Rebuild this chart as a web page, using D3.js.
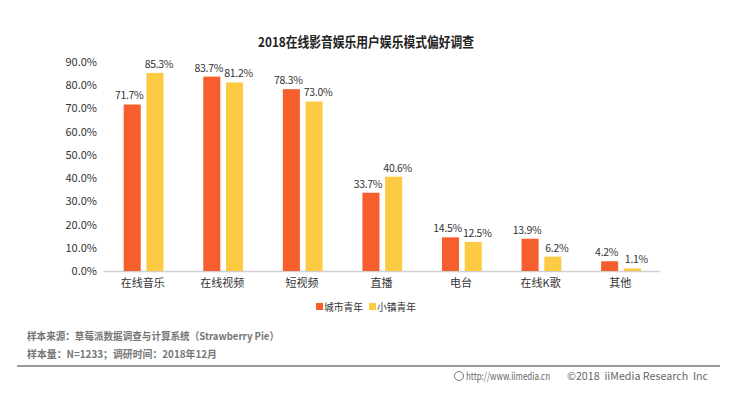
<!DOCTYPE html>
<html>
<head>
<meta charset="utf-8">
<script src="https://cdn.jsdelivr.net/npm/d3@7"></script>
<style>
  body { margin: 0; background: #fff; }
  svg text { font-family: "Noto Sans CJK SC", "Noto Sans", sans-serif; }
</style>
</head>
<body>
<div id="chart"></div>
<script>
var categories = ["在线音乐", "在线视频", "短视频", "直播", "电台", "在线K歌", "其他"];
var seriesNames = ["城市青年", "小镇青年"];
var cityValues = [71.7, 83.7, 78.3, 33.7, 14.5, 13.9, 4.2];
var townValues = [85.3, 81.2, 73.0, 40.6, 12.5, 6.2, 1.1];
var yTicks = [0, 10, 20, 30, 40, 50, 60, 70, 80, 90];
var colors = ["#f65e2e", "#fdcb43"];

var width = 743, height = 393;
var m = [62, 83, 122, 103]; // top right bottom left
var plotW = width - m[1] - m[3],
    plotH = height - m[0] - m[2];

var svg = d3.select("#chart").append("svg")
  .attr("width", width)
  .attr("height", height);

svg.append("text")
  .attr("x", 258).attr("y", 47)
  .attr("font-size", 13.5)
  .attr("font-weight", "bold")
  .attr("fill", "#222")
  .attr("textLength", 216)
  .attr("lengthAdjust", "spacingAndGlyphs")
  .text("2018在线影音娱乐用户娱乐模式偏好调查");

var x0 = d3.scaleBand().domain(categories).range([0, plotW]).paddingInner(0).paddingOuter(0);
var x1 = d3.scaleBand().domain(seriesNames).range([x0.bandwidth() * 0.26, x0.bandwidth() * 0.76]).paddingInner(0.25);
var y = d3.scaleLinear().domain([0, 90]).range([plotH, 0]);

var g = svg.append("g").attr("transform", "translate(" + m[3] + "," + m[0] + ")");

// y axis labels
var yAxis = d3.axisLeft(y).tickValues(yTicks).tickSize(0).tickPadding(6)
  .tickFormat(function(d) { return d.toFixed(1) + "%"; });
var gy = g.append("g").call(yAxis);
gy.select(".domain").remove();
gy.selectAll("text").attr("font-size", 11).attr("fill", "#333")
  .attr("font-family", "\"Noto Sans\", sans-serif");

// x axis
var xAxis = d3.axisBottom(x0).tickSize(0).tickPadding(8);
var gx = g.append("g").attr("transform", "translate(0," + plotH + ")").call(xAxis);
gx.select(".domain").attr("stroke", "#d0d0d0").attr("stroke-width", 1.5);
gx.selectAll("text").attr("font-size", 11).attr("fill", "#333");

var rows = categories.map(function(c, i) { return { cat: c, vals: [cityValues[i], townValues[i]] }; });

var groups = g.selectAll(".grp").data(rows).enter().append("g")
  .attr("transform", function(d) { return "translate(" + x0(d.cat) + ",0)"; });

function pairs(d) { return d.vals.map(function(v, j) { return { s: seriesNames[j], v: v, j: j }; }); }

groups.selectAll("rect").data(pairs)
  .enter().append("rect")
  .attr("x", function(d) { return x1(d.s); })
  .attr("y", function(d) { return y(d.v); })
  .attr("width", x1.bandwidth())
  .attr("height", function(d) { return plotH - y(d.v); })
  .attr("fill", function(d) { return colors[d.j]; });

groups.selectAll(".lbl").data(pairs)
  .enter().append("text")
  .attr("class", "lbl")
  .attr("x", function(d) { return x1(d.s) + x1.bandwidth() / 2 + (d.j ? 4 : -3); })
  .attr("y", function(d) { return y(d.v) - 5; })
  .attr("text-anchor", "middle")
  .attr("font-size", 10.5)
  .attr("letter-spacing", -0.3)
  .attr("fill", "#333")
  .attr("font-family", "\"Noto Sans\", sans-serif")
  .text(function(d) { return d.v.toFixed(1) + "%"; });

// legend
var legend = svg.append("g").attr("transform", "translate(316,302)");
var lx = [0, 53];
seriesNames.forEach(function(name, i) {
  legend.append("rect").attr("x", lx[i]).attr("y", 1).attr("width", 7).attr("height", 7).attr("fill", colors[i]);
  legend.append("text").attr("x", lx[i] + 8).attr("y", 9)
    .attr("font-size", 10.5).attr("fill", "#333")
    .attr("textLength", 39).attr("lengthAdjust", "spacingAndGlyphs")
    .text(name);
});

// footer
var foot = svg.append("g");
foot.append("text").attr("x", 27).attr("y", 340).attr("font-size", 10.5).attr("fill", "#777")
  .attr("font-weight", "bold")
  .attr("textLength", 252).attr("lengthAdjust", "spacingAndGlyphs")
  .text("样本来源：草莓派数据调查与计算系统（Strawberry Pie）");
foot.append("text").attr("x", 27).attr("y", 358).attr("font-size", 10.5).attr("fill", "#777")
  .attr("font-weight", "bold")
  .attr("textLength", 190).attr("lengthAdjust", "spacingAndGlyphs")
  .text("样本量：N=1233；调研时间：2018年12月");
foot.append("line").attr("x1", 17).attr("x2", 720).attr("y1", 366).attr("y2", 366)
  .attr("stroke", "#777").attr("stroke-width", 1.5);
foot.append("circle").attr("cx", 459).attr("cy", 376).attr("r", 4.5)
  .attr("fill", "none").attr("stroke", "#777").attr("stroke-width", 1);
foot.append("text").attr("x", 466).attr("y", 380).attr("font-size", 10.5).attr("fill", "#666")
  .attr("font-family", "\"Liberation Sans\", sans-serif")
  .attr("textLength", 84).attr("lengthAdjust", "spacingAndGlyphs")
  .text("http://www.iimedia.cn");
foot.append("text").attr("x", 567).attr("y", 380).attr("font-size", 10.5).attr("fill", "#666")
  .attr("font-family", "\"Liberation Sans\", sans-serif")
  .attr("xml:space", "preserve")
  .attr("textLength", 141).attr("lengthAdjust", "spacingAndGlyphs")
  .text("©2018  iiMedia Research  Inc");
</script>
</body>
</html>
